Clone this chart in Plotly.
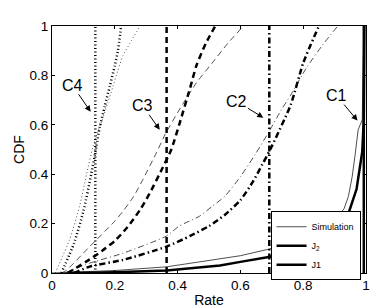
import plotly.graph_objects as go

# ---- data ----
# C1 (solid)
c1_sim_x = [0.0, 0.1, 0.2, 0.365, 0.47, 0.535, 0.6, 0.685, 0.8, 0.908, 0.93, 0.944, 0.956, 0.966, 0.975, 0.988, 0.993]
c1_sim_y = [0.0, 0.005, 0.01, 0.025, 0.045, 0.055, 0.07, 0.095, 0.14, 0.224, 0.26, 0.31, 0.39, 0.485, 0.58, 0.62, 1.0]
c1_j2_x = [0.05, 0.2, 0.365, 0.535, 0.6, 0.695, 0.8, 0.89, 0.944, 0.97, 0.988, 0.993, 0.995]
c1_j2_y = [0.0, 0.003, 0.01, 0.03, 0.045, 0.066, 0.1, 0.15, 0.24, 0.34, 0.49, 0.62, 1.0]
# C2 (dash-dot)
c2_sim_x = [0.04, 0.12, 0.226, 0.365, 0.405, 0.47, 0.51, 0.55, 0.6, 0.647, 0.69, 0.73, 0.76, 0.81, 0.86, 0.91]
c2_sim_y = [0.0, 0.04, 0.08, 0.15, 0.19, 0.23, 0.27, 0.31, 0.39, 0.48, 0.57, 0.66, 0.72, 0.83, 0.92, 1.0]
c2_j2_x = [0.07, 0.12, 0.226, 0.365, 0.44, 0.5, 0.55, 0.6, 0.64, 0.67, 0.695, 0.76, 0.80, 0.85]
c2_j2_y = [0.0, 0.026, 0.053, 0.107, 0.15, 0.19, 0.235, 0.295, 0.37, 0.44, 0.50, 0.68, 0.85, 1.0]
# C3 (dashed)
c3_sim_x = [0.03, 0.045, 0.12, 0.2, 0.226, 0.26, 0.29, 0.33, 0.36, 0.405, 0.46, 0.51, 0.56, 0.61]
c3_sim_y = [0.0, 0.01, 0.107, 0.21, 0.25, 0.31, 0.38, 0.48, 0.56, 0.66, 0.77, 0.85, 0.93, 1.0]
c3_j2_x = [0.05, 0.12, 0.16, 0.2, 0.24, 0.28, 0.31, 0.35, 0.38, 0.405, 0.44, 0.46, 0.49, 0.52]
c3_j2_y = [0.0, 0.055, 0.09, 0.13, 0.185, 0.255, 0.32, 0.42, 0.50, 0.60, 0.75, 0.84, 0.93, 1.0]
# C4 (dotted)
c4_sim_x = [0.01, 0.056, 0.088, 0.11, 0.13, 0.145, 0.16, 0.178, 0.194, 0.21, 0.226, 0.248, 0.28]
c4_sim_y = [0.0, 0.135, 0.27, 0.40, 0.51, 0.57, 0.62, 0.69, 0.755, 0.82, 0.88, 0.93, 1.0]
c4_j2_x = [0.03, 0.07, 0.1, 0.125, 0.141, 0.152, 0.168, 0.184, 0.2, 0.21, 0.22]
c4_j2_y = [0.0, 0.12, 0.25, 0.40, 0.51, 0.59, 0.675, 0.756, 0.84, 0.90, 1.0]
# J1 step positions (vertical lines) for C1..C4
j1_rates = [0.993, 0.692, 0.365, 0.138]
j1_y = [0.0, 1.0]

series_names = ["Simulation", "J<sub>2</sub>", "J1"]
group_labels = ["C1", "C2", "C3", "C4"]
label_pos = [(0.906, 0.718), (0.589, 0.694), (0.289, 0.677), (0.065, 0.76)]
arrow_head = [(0.973, 0.617), (0.673, 0.629), (0.343, 0.580), (0.123, 0.653)]

x_ticks = [0, 0.2, 0.4, 0.6, 0.8, 1]
y_ticks = [0, 0.2, 0.4, 0.6, 0.8, 1]

# ---- styles ----
thin_dash = ["solid", "6px,3px,1px,3px", "6px,4px", "1px,2.5px"]
thick_dash = ["solid", "6px,3px,1.5px,3px", "6px,4px", "1px,2.5px"]
shapes_ = ["linear", "spline", "spline", "spline"]
THIN_W, THICK_W = 0.8, 2.5

sims = [(c1_sim_x, c1_sim_y), (c2_sim_x, c2_sim_y), (c3_sim_x, c3_sim_y), (c4_sim_x, c4_sim_y)]
j2s = [(c1_j2_x, c1_j2_y), (c2_j2_x, c2_j2_y), (c3_j2_x, c3_j2_y), (c4_j2_x, c4_j2_y)]

fig = go.Figure()
for i in range(4):
    first = i == 0
    fig.add_trace(go.Scatter(x=sims[i][0], y=sims[i][1], mode="lines",
                             name=series_names[0], showlegend=first,
                             line=dict(color="#222", width=THIN_W, dash=thin_dash[i],
                                       shape=shapes_[i], smoothing=0.6)))
    fig.add_trace(go.Scatter(x=j2s[i][0], y=j2s[i][1], mode="lines",
                             name=series_names[1], showlegend=first,
                             line=dict(color="black", width=THICK_W, dash=thick_dash[i],
                                       shape=shapes_[i], smoothing=0.6)))
    fig.add_trace(go.Scatter(x=[j1_rates[i], j1_rates[i]], y=j1_y, mode="lines",
                             name=series_names[2], showlegend=first,
                             line=dict(color="black", width=THICK_W, dash=thick_dash[i])))

annotations = []
for lab, lp, hd in zip(group_labels, label_pos, arrow_head):
    annotations.append(dict(x=hd[0], y=hd[1], xref="x", yref="y",
                            ax=lp[0], ay=lp[1], axref="x", ayref="y", text=lab,
                            font=dict(size=16, color="black"),
                            showarrow=True, arrowhead=2, arrowsize=1.2,
                            arrowwidth=1, arrowcolor="black", borderpad=0))

axis_common = dict(showline=True, linecolor="black", linewidth=1, mirror="ticks",
                   ticks="inside", ticklen=3, tickcolor="black", showgrid=False,
                   zeroline=False, tickfont=dict(size=13.5, color="black"))

fig.update_layout(
    width=374, height=308,
    margin=dict(l=52, r=8, t=26, b=35, autoexpand=False),
    paper_bgcolor="white", plot_bgcolor="white",
    font=dict(family="Liberation Sans, Arial, sans-serif", color="black"),
    xaxis=dict(range=[0, 1], tickvals=x_ticks, ticktext=[f"{v:g}" for v in x_ticks],
               title=dict(text="Rate", font=dict(size=14), standoff=2), **axis_common),
    yaxis=dict(range=[0, 1], tickvals=y_ticks, ticktext=[f"{v:g}" for v in y_ticks],
               title=dict(text="CDF", font=dict(size=14), standoff=1), **axis_common),
    legend=dict(x=0.696, y=0.25, xanchor="left", yanchor="top",
                bgcolor="white", bordercolor="black", borderwidth=1,
                font=dict(size=9, color="black"), tracegroupgap=0),
    annotations=annotations,
    showlegend=True,
)

fig.write_html("out.html", config={"displayModeBar": False},
               post_script="document.body.style.margin='0';")
